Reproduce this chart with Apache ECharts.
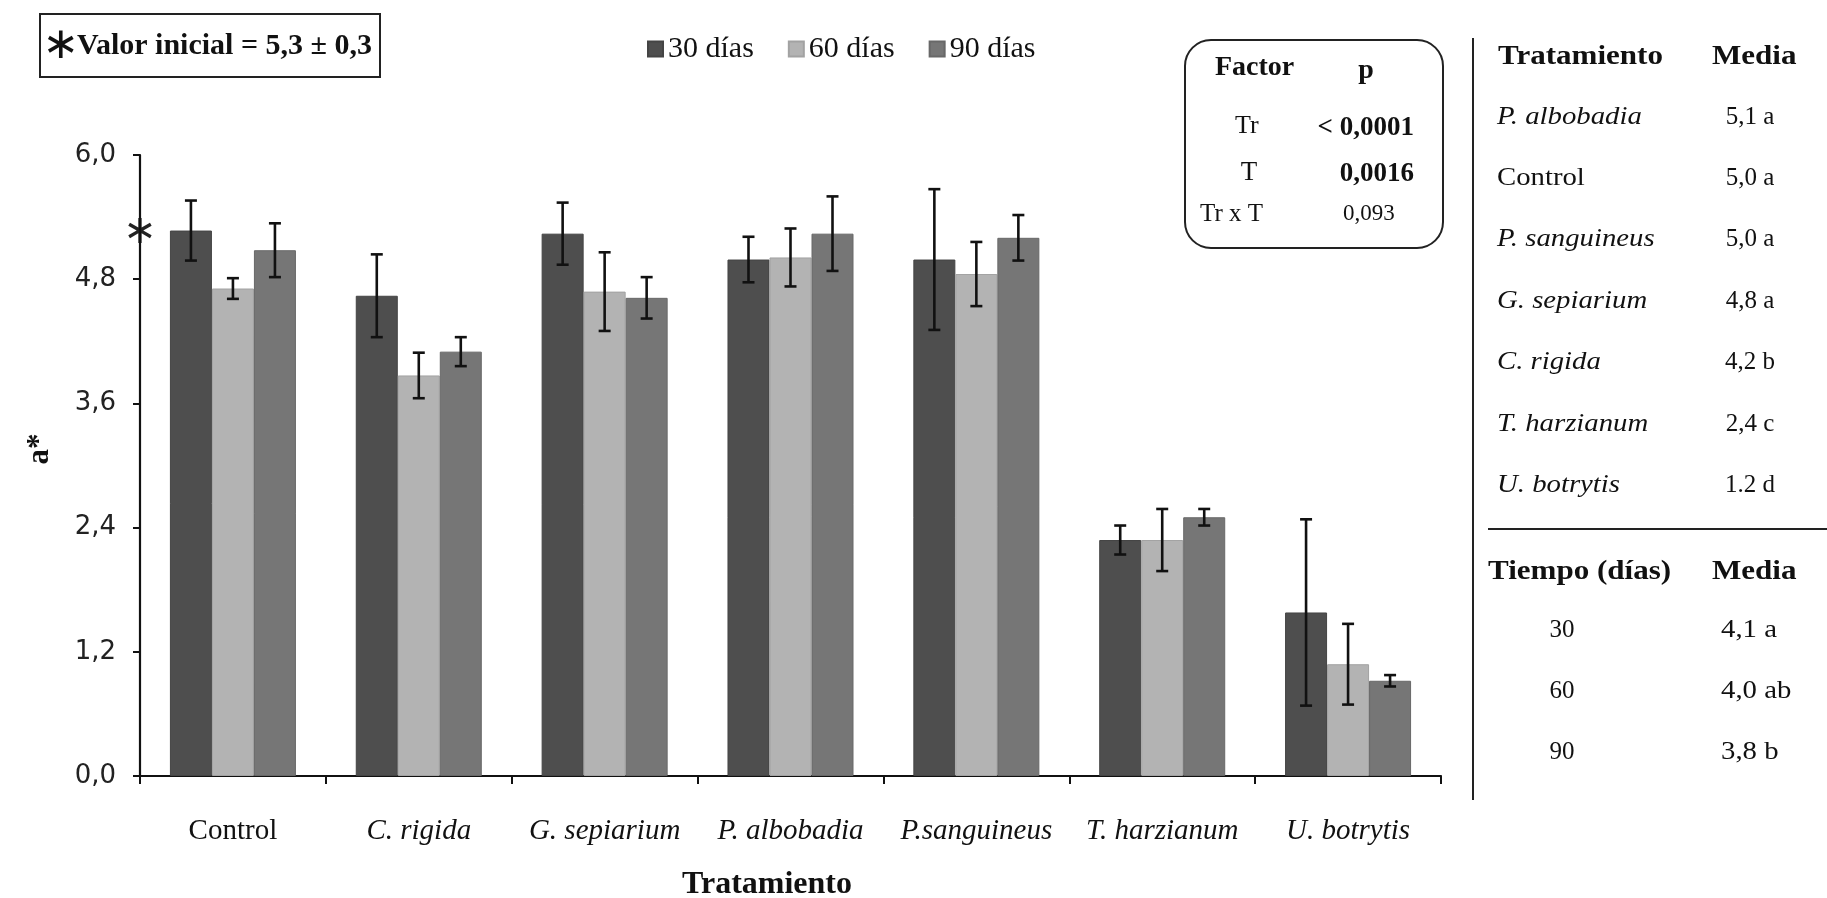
<!DOCTYPE html>
<html>
<head>
<meta charset="utf-8">
<title>a* por tratamiento y tiempo</title>
<script src="https://cdn.jsdelivr.net/npm/echarts@6/dist/echarts.min.js"></script>
<style>
  html, body { margin: 0; padding: 0; background: #ffffff; }
  #chart { width: 1827px; height: 898px; }
</style>
</head>
<body>
<div id="chart"></div>
<script>
// ---- data ----
const categories = ['Control', 'C. rigida', 'G. sepiarium', 'P. albobadia', 'P.sanguineus', 'T. harzianum', 'U. botrytis'];
const seriesNames = ['30 días', '60 días', '90 días'];
const mean30 = [5.27, 4.64, 5.24, 4.99, 4.99, 2.28, 1.58];
const mean60 = [4.71, 3.87, 4.68, 5.01, 4.85, 2.28, 1.08];
const mean90 = [5.08, 4.10, 4.62, 5.24, 5.20, 2.50, 0.92];
const err30 = [0.29, 0.40, 0.30, 0.22, 0.68, 0.14, 0.90];
const err60 = [0.10, 0.22, 0.38, 0.28, 0.31, 0.30, 0.39];
const err90 = [0.26, 0.14, 0.20, 0.36, 0.22, 0.08, 0.055];
const initialValue = 5.3;
const initialLabel = 'Valor inicial = 5,3 ± 0,3';
const factorRows = [['Tr', '< 0,0001'], ['T', '0,0016'], ['Tr x T', '0,093']];
const treatmentMeans = [
  ['P. albobadia', '5,1 a', true], ['Control', '5,0 a', false], ['P. sanguineus', '5,0 a', true],
  ['G. sepiarium', '4,8 a', true], ['C. rigida', '4,2 b', true], ['T. harzianum', '2,4 c', true],
  ['U. botrytis', '1.2 d', true]
];
const timeMeans = [['30', '4,1 a'], ['60', '4,0 ab'], ['90', '3,8 b']];

// ---- styling ----
const SERIF = '"Liberation Serif", "Times New Roman", serif';
const SANS = '"DejaVu Sans", Verdana, sans-serif';
const barColors = ['#4e4e4e', '#b3b3b3', '#767676'];
const barBorders = ['#444444', '#a2a2a2', '#686868'];
const BAR_FRAC = 0.226;
const SX = 1.15;

const chart = echarts.init(document.getElementById('chart'));

const means = [mean30, mean60, mean90];
const errs = [err30, err60, err90];

const barSeries = means.map((m, i) => ({
  type: 'bar',
  name: seriesNames[i],
  data: m,
  barWidth: (BAR_FRAC * 100) + '%',
  barGap: '0%',
  itemStyle: { color: barColors[i], borderColor: barBorders[i], borderWidth: 1 },
  emphasis: { disabled: true },
  z: 2
}));

function errorSeries(idx) {
  return {
    type: 'custom',
    name: seriesNames[idx] + ' (error)',
    data: means[idx].map((m, i) => [i, m - errs[idx][i], m + errs[idx][i]]),
    encode: { x: 0, y: [1, 2] },
    silent: true,
    z: 10,
    renderItem(params, api) {
      const cat = api.value(0);
      const lo = api.coord([cat, api.value(1)]);
      const hi = api.coord([cat, api.value(2)]);
      const band = api.size([1, 0])[0];
      const x = lo[0] + (idx - 1) * band * BAR_FRAC;
      const cap = 6;
      const style = { stroke: '#111111', lineWidth: 2.6, fill: null };
      return {
        type: 'group',
        children: [
          { type: 'line', shape: { x1: x, y1: lo[1], x2: x, y2: hi[1] }, style },
          { type: 'line', shape: { x1: x - cap, y1: hi[1], x2: x + cap, y2: hi[1] }, style },
          { type: 'line', shape: { x1: x - cap, y1: lo[1], x2: x + cap, y2: lo[1] }, style }
        ]
      };
    }
  };
}

function txt(text, x, y, opts) {
  opts = opts || {};
  return {
    type: 'text', x: x, y: y, scaleX: opts.sx || 1, silent: true,
    style: {
      text: text,
      font: (opts.italic ? 'italic ' : '') + (opts.bold ? 'bold ' : '') + (opts.size || 25) + 'px ' + (opts.family || SERIF),
      fill: opts.color || '#111111',
      textAlign: opts.align || 'left',
      textVerticalAlign: 'middle'
    }
  };
}

const graphics = [];
// initial-value box
graphics.push({ type: 'rect', shape: { x: 40, y: 14, width: 340, height: 63 }, style: { fill: '#fff', stroke: '#222', lineWidth: 2 }, silent: true });
graphics.push(txt('∗', 61, 47, { size: 44, family: SANS, align: 'center' }));
graphics.push(txt(initialLabel, 77, 46, { size: 30, bold: true }));

// factor / p box
graphics.push({ type: 'rect', shape: { x: 1185, y: 40, width: 258, height: 208, r: 26 }, style: { fill: 'none', stroke: '#222', lineWidth: 2 }, silent: true });
graphics.push(txt('Factor', 1215, 68, { size: 28, bold: true }));
graphics.push(txt('p', 1366, 71, { size: 28, bold: true, align: 'center' }));
graphics.push(txt(factorRows[0][0], 1235, 126, { size: 26 }));
graphics.push(txt(factorRows[0][1], 1414, 128, { size: 27, bold: true, align: 'right' }));
graphics.push(txt(factorRows[1][0], 1249, 173, { size: 27, align: 'center' }));
graphics.push(txt(factorRows[1][1], 1414, 174, { size: 27, bold: true, align: 'right' }));
graphics.push(txt(factorRows[2][0], 1200, 214, { size: 25 }));
graphics.push(txt(factorRows[2][1], 1343, 214, { size: 23 }));

// right-hand table
graphics.push({ type: 'line', shape: { x1: 1473, y1: 38, x2: 1473, y2: 800 }, style: { stroke: '#222', lineWidth: 2 }, silent: true });
graphics.push({ type: 'line', shape: { x1: 1488, y1: 529, x2: 1827, y2: 529 }, style: { stroke: '#222', lineWidth: 2 }, silent: true });
graphics.push(txt('Tratamiento', 1498, 57, { size: 27, bold: true, sx: SX }));
graphics.push(txt('Media', 1712, 57, { size: 27, bold: true, sx: SX }));
treatmentMeans.forEach((r, i) => {
  const y = 117 + i * 61.4;
  graphics.push(txt(r[0], 1497, y, { size: 25, italic: r[2], sx: SX }));
  graphics.push(txt(r[1], 1750, y, { size: 25, align: 'center' }));
});
graphics.push(txt('Tiempo (días)', 1488, 572, { size: 27, bold: true, sx: SX }));
graphics.push(txt('Media', 1712, 572, { size: 27, bold: true, sx: SX }));
timeMeans.forEach((r, i) => {
  const y = 630 + i * 61;
  graphics.push(txt(r[0], 1562, y, { size: 25, align: 'center' }));
  graphics.push(txt(r[1], 1721, y, { size: 25, sx: SX }));
});

// axis titles
graphics.push({
  type: 'text', x: 40, y: 449, rotation: Math.PI / 2, silent: true,
  style: { text: 'a*', font: 'bold 31px ' + SERIF, fill: '#111', textAlign: 'center', textVerticalAlign: 'middle' }
});
graphics.push(txt('Tratamiento', 767, 885, { size: 32, bold: true, align: 'center' }));

const option = {
  animation: false,
  backgroundColor: '#ffffff',
  grid: { left: 140, right: 386, top: 155, bottom: 122, containLabel: false },
  legend: {
    data: seriesNames,
    left: 642, top: 29,
    icon: 'rect', itemWidth: 15, itemHeight: 15, itemGap: 34,
    textStyle: { fontFamily: SERIF, fontSize: 30, color: '#111' }
  },
  xAxis: {
    type: 'category',
    data: categories,
    axisLine: { lineStyle: { color: '#111', width: 2.2 } },
    axisTick: { show: true, alignWithLabel: false, length: 8, lineStyle: { color: '#111', width: 2 } },
    axisLabel: {
      interval: 0, margin: 41, color: '#111', fontFamily: SERIF, fontSize: 29,
      formatter: v => v === 'Control' ? v : '{i|' + v + '}',
      rich: { i: { fontStyle: 'italic', fontFamily: SERIF, fontSize: 29, color: '#111' } }
    }
  },
  yAxis: {
    type: 'value',
    min: 0, max: 6, interval: 1.2,
    axisLine: { show: true, lineStyle: { color: '#111', width: 2.2 } },
    axisTick: { show: true, length: 7, lineStyle: { color: '#111', width: 2 } },
    splitLine: { show: false },
    axisLabel: {
      margin: 24, color: '#222', fontFamily: SANS, fontSize: 26,
      formatter: v => v.toFixed(1).replace('.', ',')
    }
  },
  series: [...barSeries, errorSeries(0), errorSeries(1), errorSeries(2)],
  graphic: graphics
};

chart.setOption(option);

// asterisk marking the initial value on the y-axis
const yInit = chart.convertToPixel({ yAxisIndex: 0 }, initialValue);
graphics.push(txt('∗', 140, yInit + 5, { size: 40, family: SANS, align: 'center', color: '#222' }));
chart.setOption({ graphic: graphics });
</script>
</body>
</html>
